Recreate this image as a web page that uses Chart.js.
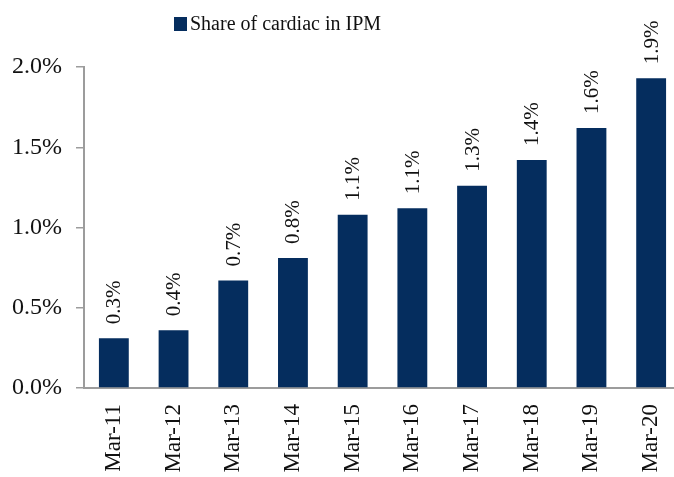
<!DOCTYPE html>
<html>
<head>
<meta charset="utf-8">
<title>Share of cardiac in IPM</title>
<script src="https://cdn.jsdelivr.net/npm/chart.js@4.4.1/dist/chart.umd.min.js"></script>
<style>
  html, body { margin: 0; padding: 0; background: #fff; overflow: hidden; }
  /* the plot runs a few pixels past the right edge of the page */
  canvas { display: block; }
</style>
</head>
<body>
<canvas id="cardiacChart" width="681" height="477"></canvas>
<script>
// fiscal year ends
var years = ["Mar-11", "Mar-12", "Mar-13", "Mar-14", "Mar-15", "Mar-16", "Mar-17", "Mar-18", "Mar-19", "Mar-20"];
// share of cardiac in IPM, %
var cardiacShare = [0.31, 0.36, 0.67, 0.81, 1.08, 1.12, 1.26, 1.42, 1.62, 1.93];
var yTicks = [0, 0.5, 1.0, 1.5, 2.0];
var seriesName = "Share of cardiac in IPM";

var navy = "#052D5E";
var axisGrey = "#9C9C9C";
var serif = "'Liberation Serif', 'Times New Roman', serif";

function pct(v) {
    return v.toFixed(1) + "%";
}

// vertical value labels above each bar
var barValues = {
    id: "barValues",
    afterDatasetsDraw: function(chart) {
        var ctx = chart.ctx;
        var meta = chart.getDatasetMeta(0);
        ctx.save();
        ctx.font = "21px " + serif;
        ctx.fillStyle = "#111";
        ctx.textAlign = "left";
        ctx.textBaseline = "middle";
        meta.data.forEach(function(bar, i) {
            ctx.save();
            ctx.translate(bar.x + 1, bar.y - 14);
            ctx.rotate(-Math.PI / 2);
            ctx.fillText(pct(cardiacShare[i]), 0, 0);
            ctx.restore();
        });
        ctx.restore();
    }
};

// legend drawn by hand so it sits left of centre, above the plot
var seriesKey = {
    id: "seriesKey",
    afterDraw: function(chart) {
        var ctx = chart.ctx;
        var ds = chart.data.datasets[0];
        ctx.save();
        ctx.fillStyle = ds.backgroundColor;
        ctx.fillRect(174, 17, 13, 14);
        ctx.font = "20px " + serif;
        ctx.fillStyle = "#111";
        ctx.textAlign = "left";
        ctx.textBaseline = "alphabetic";
        ctx.fillText(ds.label, 190, 30);
        ctx.restore();
    }
};

new Chart(document.getElementById("cardiacChart"), {
    type: "bar",
    data: {
        labels: years,
        datasets: [{
            label: seriesName,
            data: cardiacShare,
            backgroundColor: navy,
            borderWidth: 0,
            barPercentage: 0.5,
            categoryPercentage: 1.0
        }]
    },
    options: {
        responsive: false,
        animation: false,
        layout: { padding: { top: 67, left: 0, right: 0, bottom: 0 } },
        plugins: {
            legend: { display: false },
            tooltip: { enabled: false }
        },
        scales: {
            x: {
                grid: { display: false, drawTicks: false },
                border: { display: true, color: axisGrey, width: 2 },
                ticks: {
                    color: "#111",
                    font: { family: serif, size: 23 },
                    minRotation: 90,
                    maxRotation: 90,
                    padding: 16
                },
                afterFit: function(scale) {
                    scale.height = 89;
                    scale.paddingLeft = 0;
                    scale.paddingRight = 0;
                }
            },
            y: {
                min: 0,
                max: 2,
                grid: {
                    display: true,
                    drawOnChartArea: false,
                    drawTicks: true,
                    tickLength: 8,
                    color: axisGrey,
                    lineWidth: 1.5
                },
                border: { display: true, color: axisGrey, width: 2 },
                ticks: {
                    color: "#111",
                    font: { family: serif, size: 24 },
                    padding: 14,
                    callback: function(v) { return pct(v); }
                },
                afterBuildTicks: function(scale) {
                    scale.ticks = yTicks.map(function(v) { return { value: v }; });
                },
                afterFit: function(scale) { scale.width = 84; }
            }
        }
    },
    plugins: [barValues, seriesKey]
});
</script>
</body>
</html>
